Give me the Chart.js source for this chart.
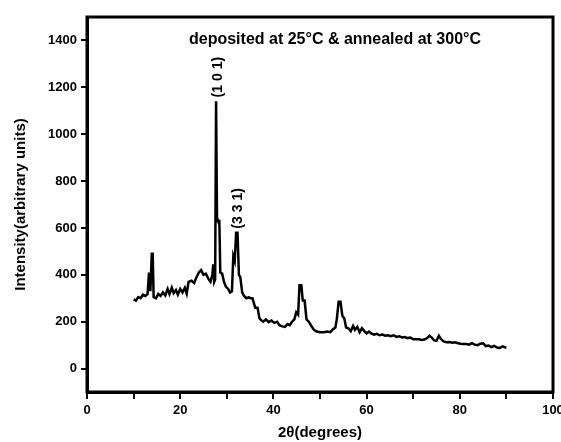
<!DOCTYPE html>
<html>
<head>
<meta charset="utf-8">
<script src="https://cdn.jsdelivr.net/npm/chart.js@4/dist/chart.umd.min.js"></script>
<style>
  html, body { margin:0; padding:0; background:#fff; }
  #wrap { width:561px; height:442px; position:relative; }
</style>
</head>
<body>
<div id="wrap"><canvas id="xrd"></canvas></div>
<script>
// 2theta (degrees) and intensity
const twoTheta = [10,10.5,11,11.5,12,12.5,13,13.3,13.6,13.9,14.1,14.3,14.8,15.3,15.8,16.3,16.8,17.3,17.7,18.2,18.6,19.1,19.5,20,20.5,21,21.4,21.8,22.4,23,23.5,24,24.5,25,25.5,26,26.5,26.9,27.1,27.3,27.5,27.7,27.9,28.1,28.4,28.6,29,29.4,29.8,30.3,30.7,31.1,31.4,31.7,32,32.3,32.6,32.9,33.3,33.7,34.2,34.7,35.1,35.5,36.1,36.6,37,37.2,37.8,38.4,39,39.6,40.2,40.8,41.3,41.9,42.5,43,43.5,44,44.5,44.9,45.3,45.6,46,46.3,46.7,47.1,47.6,48.2,48.7,49.3,50,50.8,51.5,52.2,52.8,53.3,53.6,54,54.4,54.8,55.2,55.6,56.1,56.6,57.1,57.5,58,58.5,59,59.5,60,60.5,61,61.6,62.2,62.8,63.4,64,64.6,65.2,65.8,66.4,67,67.6,68.2,68.8,69.4,70,70.6,71.2,71.8,72.4,73,73.5,74,74.5,75,75.5,76,76.6,77.2,77.8,78.4,79,79.6,80.2,80.8,81.4,82,82.6,83.2,83.8,84.4,85,85.6,86.2,86.8,87.4,88,88.6,89.2,90];
const intensity = [295,290,305,300,315,310,318,410,330,490,490,305,300,318,310,325,312,340,318,345,322,335,315,340,325,345,320,370,375,365,390,410,420,400,405,385,370,400,445,370,380,1140,640,630,630,410,405,370,350,340,325,330,480,460,580,580,400,390,325,310,300,305,300,300,260,260,215,210,200,210,198,205,195,200,185,180,178,190,185,200,210,240,230,355,355,290,290,210,200,180,165,158,155,155,158,155,168,175,210,285,285,225,215,175,172,160,182,165,178,155,172,160,150,158,150,145,148,142,145,140,142,138,142,135,138,133,135,130,132,125,125,125,122,124,130,140,132,120,118,140,125,115,112,113,110,112,108,106,105,105,102,108,102,100,106,108,96,98,92,97,90,88,95,88];

const xTicks = [0,10,20,30,40,50,60,70,80,90,100];
const xTickLabels = ['0','','20','','40','','60','','80','','100'];
const yTicks = [0,200,400,600,800,1000,1200,1400];

const sampleNote = 'deposited at 25°C & annealed at 300°C';
const peakLabels = [
  { text:'(1 0 1)', at:28.2, value:1140 },
  { text:'(3 3 1)', at:32.5, value:580 }
];

const FONT = 'Liberation Sans, Arial, sans-serif';

const framePlugin = {
  id:'frame',
  afterDraw(chart){
    const {ctx, chartArea:a, scales} = chart;
    ctx.save();
    ctx.strokeStyle = '#000';
    ctx.lineWidth = 3;
    ctx.strokeRect(a.left, a.top, a.right - a.left, a.bottom - a.top);

    ctx.fillStyle = '#000';
    ctx.font = 'bold 16px ' + FONT;
    ctx.textAlign = 'center';
    ctx.textBaseline = 'middle';
    ctx.fillText(sampleNote, 335, 40);

    ctx.font = 'bold 14px ' + FONT;
    peakLabels.forEach(p => {
      const x = scales.x.getPixelForValue(p.at);
      const y = scales.y.getPixelForValue(p.value) - 4;
      ctx.save();
      ctx.translate(x, y);
      ctx.rotate(-Math.PI/2);
      ctx.textAlign = 'left';
      ctx.fillText(p.text, 0, 0);
      ctx.restore();
    });
    ctx.restore();
  }
};

new Chart(document.getElementById('xrd'), {
  type:'line',
  data:{
    datasets:[{
      data: twoTheta.map((t, i) => ({ x:t, y:intensity[i] })),
      borderColor:'#000',
      borderWidth:2.5,
      pointRadius:0,
      tension:0,
      fill:false
    }]
  },
  options:{
    responsive:true,
    maintainAspectRatio:false,
    animation:false,
    layout:{ padding:{ left:12, right:8, top:17, bottom:0 } },
    plugins:{ legend:{ display:false }, tooltip:{ enabled:false } },
    scales:{
      x:{
        type:'linear', min:0, max:100,
        afterBuildTicks: ax => { ax.ticks = xTicks.map(v => ({ value:v })); },
        afterFit: ax => { ax.height = 50; ax.paddingLeft = 0; ax.paddingRight = 0; },
        ticks:{
          autoSkip:false, maxRotation:0, padding:4,
          color:'#000', font:{ family:FONT, size:13, weight:'bold' },
          callback:(v, i) => xTickLabels[i]
        },
        grid:{ drawOnChartArea:false, drawTicks:true, tickLength:7, lineWidth:2, color:'#000' },
        border:{ display:true, color:'#000', width:3 },
        title:{ display:true, text:'2θ(degrees)', color:'#000', padding:{ top:0, bottom:0 },
                font:{ family:FONT, size:15, weight:'bold' } }
      },
      y:{
        type:'linear', min:-100, max:1500,
        afterBuildTicks: ax => { ax.ticks = yTicks.map(v => ({ value:v })); },
        afterFit: ax => { ax.width = 75; ax.paddingTop = 0; ax.paddingBottom = 0; },
        ticks:{
          autoSkip:false, padding:4,
          color:'#000', font:{ family:FONT, size:13, weight:'bold' },
          callback: v => String(v)
        },
        grid:{ drawOnChartArea:false, drawTicks:true, tickLength:6, lineWidth:2, color:'#000' },
        border:{ display:true, color:'#000', width:3 },
        title:{ display:true, text:'Intensity(arbitrary units)', color:'#000', padding:{ top:0, bottom:0 },
                font:{ family:FONT, size:15, weight:'bold' } }
      }
    }
  },
  plugins:[framePlugin]
});
</script>
</body>
</html>
